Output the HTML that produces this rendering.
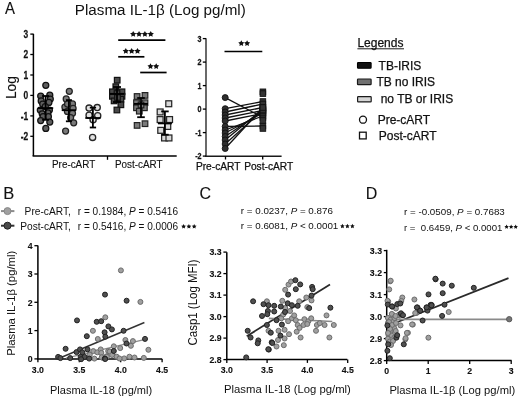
<!DOCTYPE html>
<html><head><meta charset="utf-8"><style>
html,body{margin:0;padding:0;background:#fff;width:520px;height:397px;overflow:hidden}
svg{display:block;filter:grayscale(1) blur(0.3px)}
svg text{font-family:"Liberation Sans",sans-serif;fill:#111}
svg text.h{stroke:#111;stroke-width:0.25px}
svg text.m{stroke:#111;stroke-width:0.12px}
</style></head><body>
<svg width="520" height="397" viewBox="0 0 520 397">
<rect width="520" height="397" fill="#fff"/>
<text transform="translate(5.10 13.80) scale(0.900 1)" font-size="16.6" text-anchor="start" font-weight="normal" class="m">A</text>
<text transform="translate(74.80 14.90) scale(1.028 1)" font-size="14.8" text-anchor="start" font-weight="normal" >Plasma IL-1&#946; (Log pg/ml)</text>
<line x1="33.4" y1="33.8" x2="33.4" y2="156.0" stroke="#000" stroke-width="1.50"/>
<line x1="32.6" y1="156.0" x2="176.7" y2="156.0" stroke="#000" stroke-width="1.50"/>
<line x1="30.3" y1="34.1" x2="33.4" y2="34.1" stroke="#000" stroke-width="1.30"/>
<text transform="translate(28.30 37.85) scale(0.780 1)" font-size="10.8" text-anchor="end" font-weight="bold" class="h">3</text>
<line x1="30.3" y1="54.5" x2="33.4" y2="54.5" stroke="#000" stroke-width="1.30"/>
<text transform="translate(28.30 58.30) scale(0.780 1)" font-size="10.8" text-anchor="end" font-weight="bold" class="h">2</text>
<line x1="30.3" y1="75.0" x2="33.4" y2="75.0" stroke="#000" stroke-width="1.30"/>
<text transform="translate(28.30 78.75) scale(0.780 1)" font-size="10.8" text-anchor="end" font-weight="bold" class="h">1</text>
<line x1="30.3" y1="95.4" x2="33.4" y2="95.4" stroke="#000" stroke-width="1.30"/>
<text transform="translate(28.30 99.20) scale(0.780 1)" font-size="10.8" text-anchor="end" font-weight="bold" class="h">0</text>
<line x1="30.3" y1="115.9" x2="33.4" y2="115.9" stroke="#000" stroke-width="1.30"/>
<text transform="translate(28.30 119.65) scale(0.780 1)" font-size="10.8" text-anchor="end" font-weight="bold" class="h">-1</text>
<line x1="30.3" y1="136.3" x2="33.4" y2="136.3" stroke="#000" stroke-width="1.30"/>
<text transform="translate(28.30 140.10) scale(0.780 1)" font-size="10.8" text-anchor="end" font-weight="bold" class="h">-2</text>
<line x1="107.5" y1="156.0" x2="107.5" y2="159.8" stroke="#000" stroke-width="1.30"/>
<text transform="translate(73.60 168.40) scale(0.960 1)" font-size="10.3" text-anchor="middle" font-weight="normal" class="m">Pre-cART</text>
<text transform="translate(138.80 168.40) scale(0.960 1)" font-size="10.3" text-anchor="middle" font-weight="normal" class="m">Post-cART</text>
<text class="m" font-size="15.3" text-anchor="middle" transform="translate(15.7 87.6) rotate(-90) scale(0.9 1)">Log</text>
<line x1="118.2" y1="40.1" x2="165.4" y2="40.1" stroke="#000" stroke-width="1.70"/>
<polygon points="133.20,30.90 134.17,32.87 136.34,33.18 134.77,34.71 135.14,36.87 133.20,35.85 131.26,36.87 131.63,34.71 130.06,33.18 132.23,32.87" fill="#111"/><polygon points="139.05,30.90 140.02,32.87 142.19,33.18 140.62,34.71 140.99,36.87 139.05,35.85 137.11,36.87 137.48,34.71 135.91,33.18 138.08,32.87" fill="#111"/><polygon points="144.90,30.90 145.87,32.87 148.04,33.18 146.47,34.71 146.84,36.87 144.90,35.85 142.96,36.87 143.33,34.71 141.76,33.18 143.93,32.87" fill="#111"/><polygon points="150.75,30.90 151.72,32.87 153.89,33.18 152.32,34.71 152.69,36.87 150.75,35.85 148.81,36.87 149.18,34.71 147.61,33.18 149.78,32.87" fill="#111"/>
<line x1="118.2" y1="56.8" x2="144.4" y2="56.8" stroke="#000" stroke-width="1.70"/>
<polygon points="125.80,47.90 126.77,49.87 128.94,50.18 127.37,51.71 127.74,53.87 125.80,52.85 123.86,53.87 124.23,51.71 122.66,50.18 124.83,49.87" fill="#111"/><polygon points="131.65,47.90 132.62,49.87 134.79,50.18 133.22,51.71 133.59,53.87 131.65,52.85 129.71,53.87 130.08,51.71 128.51,50.18 130.68,49.87" fill="#111"/><polygon points="137.50,47.90 138.47,49.87 140.64,50.18 139.07,51.71 139.44,53.87 137.50,52.85 135.56,53.87 135.93,51.71 134.36,50.18 136.53,49.87" fill="#111"/>
<line x1="140.2" y1="72.5" x2="166.6" y2="72.5" stroke="#000" stroke-width="1.70"/>
<polygon points="150.50,63.20 151.44,65.11 153.54,65.41 152.02,66.89 152.38,68.99 150.50,68.00 148.62,68.99 148.98,66.89 147.46,65.41 149.56,65.11" fill="#111"/><polygon points="156.20,63.20 157.14,65.11 159.24,65.41 157.72,66.89 158.08,68.99 156.20,68.00 154.32,68.99 154.68,66.89 153.16,65.41 155.26,65.11" fill="#111"/>
<circle cx="45.8" cy="85.3" r="3.00" fill="#5e5e5e" stroke="#111111" stroke-width="1.25"/>
<circle cx="40.7" cy="96.1" r="3.00" fill="#5e5e5e" stroke="#111111" stroke-width="1.25"/>
<circle cx="49.8" cy="95.2" r="3.00" fill="#5e5e5e" stroke="#111111" stroke-width="1.25"/>
<circle cx="41.2" cy="100.9" r="3.00" fill="#5e5e5e" stroke="#111111" stroke-width="1.25"/>
<circle cx="50.3" cy="99.0" r="3.00" fill="#5e5e5e" stroke="#111111" stroke-width="1.25"/>
<circle cx="42.7" cy="104.0" r="3.00" fill="#5e5e5e" stroke="#111111" stroke-width="1.25"/>
<circle cx="48.9" cy="102.4" r="3.00" fill="#5e5e5e" stroke="#111111" stroke-width="1.25"/>
<circle cx="40.3" cy="110.0" r="3.00" fill="#5e5e5e" stroke="#111111" stroke-width="1.25"/>
<circle cx="49.4" cy="110.0" r="3.00" fill="#5e5e5e" stroke="#111111" stroke-width="1.25"/>
<circle cx="42.2" cy="113.8" r="3.00" fill="#5e5e5e" stroke="#111111" stroke-width="1.25"/>
<circle cx="47.9" cy="112.9" r="3.00" fill="#5e5e5e" stroke="#111111" stroke-width="1.25"/>
<circle cx="43.1" cy="116.7" r="3.00" fill="#5e5e5e" stroke="#111111" stroke-width="1.25"/>
<circle cx="48.4" cy="116.7" r="3.00" fill="#5e5e5e" stroke="#111111" stroke-width="1.25"/>
<circle cx="40.7" cy="120.5" r="3.00" fill="#5e5e5e" stroke="#111111" stroke-width="1.25"/>
<circle cx="49.8" cy="122.0" r="3.00" fill="#5e5e5e" stroke="#111111" stroke-width="1.25"/>
<circle cx="45.8" cy="128.4" r="3.00" fill="#5e5e5e" stroke="#111111" stroke-width="1.25"/>
<circle cx="45.3" cy="106.5" r="3.00" fill="#5e5e5e" stroke="#111111" stroke-width="1.25"/>
<circle cx="69.3" cy="91.3" r="3.00" fill="#7a7a7a" stroke="#222222" stroke-width="1.25"/>
<circle cx="66.2" cy="98.9" r="3.00" fill="#7a7a7a" stroke="#222222" stroke-width="1.25"/>
<circle cx="72.5" cy="103.9" r="3.00" fill="#7a7a7a" stroke="#222222" stroke-width="1.25"/>
<circle cx="64.9" cy="107.0" r="3.00" fill="#7a7a7a" stroke="#222222" stroke-width="1.25"/>
<circle cx="73.1" cy="108.3" r="3.00" fill="#7a7a7a" stroke="#222222" stroke-width="1.25"/>
<circle cx="67.4" cy="111.4" r="3.00" fill="#7a7a7a" stroke="#222222" stroke-width="1.25"/>
<circle cx="72.5" cy="113.3" r="3.00" fill="#7a7a7a" stroke="#222222" stroke-width="1.25"/>
<circle cx="70.6" cy="117.7" r="3.00" fill="#7a7a7a" stroke="#222222" stroke-width="1.25"/>
<circle cx="73.7" cy="122.8" r="3.00" fill="#7a7a7a" stroke="#222222" stroke-width="1.25"/>
<circle cx="65.6" cy="131.0" r="3.00" fill="#7a7a7a" stroke="#222222" stroke-width="1.25"/>
<circle cx="67.5" cy="104.0" r="3.00" fill="#7a7a7a" stroke="#222222" stroke-width="1.25"/>
<circle cx="89.1" cy="108.1" r="3.10" fill="#e2e2e2" stroke="#262626" stroke-width="1.30"/>
<circle cx="97.2" cy="107.6" r="3.10" fill="#e2e2e2" stroke="#262626" stroke-width="1.30"/>
<circle cx="89.1" cy="115.2" r="3.10" fill="#e2e2e2" stroke="#262626" stroke-width="1.30"/>
<circle cx="97.7" cy="115.7" r="3.10" fill="#e2e2e2" stroke="#262626" stroke-width="1.30"/>
<circle cx="93.1" cy="119.7" r="3.10" fill="#e2e2e2" stroke="#262626" stroke-width="1.30"/>
<circle cx="92.6" cy="137.4" r="3.10" fill="#e2e2e2" stroke="#262626" stroke-width="1.30"/>
<rect x="114.4" y="77.4" width="5.6" height="5.6" fill="#484848" stroke="#111111" stroke-width="1.20"/>
<rect x="113.0" y="83.9" width="5.6" height="5.6" fill="#484848" stroke="#111111" stroke-width="1.20"/>
<rect x="109.6" y="89.0" width="5.6" height="5.6" fill="#484848" stroke="#111111" stroke-width="1.20"/>
<rect x="119.2" y="89.0" width="5.6" height="5.6" fill="#484848" stroke="#111111" stroke-width="1.20"/>
<rect x="114.2" y="90.7" width="5.6" height="5.6" fill="#484848" stroke="#111111" stroke-width="1.20"/>
<rect x="109.6" y="93.5" width="5.6" height="5.6" fill="#484848" stroke="#111111" stroke-width="1.20"/>
<rect x="119.2" y="93.5" width="5.6" height="5.6" fill="#484848" stroke="#111111" stroke-width="1.20"/>
<rect x="111.3" y="98.1" width="5.6" height="5.6" fill="#484848" stroke="#111111" stroke-width="1.20"/>
<rect x="118.1" y="96.4" width="5.6" height="5.6" fill="#484848" stroke="#111111" stroke-width="1.20"/>
<rect x="118.1" y="102.0" width="5.6" height="5.6" fill="#484848" stroke="#111111" stroke-width="1.20"/>
<rect x="114.1" y="107.2" width="5.6" height="5.6" fill="#484848" stroke="#111111" stroke-width="1.20"/>
<rect x="114.7" y="94.7" width="5.6" height="5.6" fill="#484848" stroke="#111111" stroke-width="1.20"/>
<rect x="134.3" y="93.7" width="5.6" height="5.6" fill="#7a7a7a" stroke="#222222" stroke-width="1.20"/>
<rect x="142.2" y="92.6" width="5.6" height="5.6" fill="#7a7a7a" stroke="#222222" stroke-width="1.20"/>
<rect x="133.7" y="99.9" width="5.6" height="5.6" fill="#7a7a7a" stroke="#222222" stroke-width="1.20"/>
<rect x="142.2" y="99.9" width="5.6" height="5.6" fill="#7a7a7a" stroke="#222222" stroke-width="1.20"/>
<rect x="133.7" y="105.0" width="5.6" height="5.6" fill="#7a7a7a" stroke="#222222" stroke-width="1.20"/>
<rect x="141.6" y="105.0" width="5.6" height="5.6" fill="#7a7a7a" stroke="#222222" stroke-width="1.20"/>
<rect x="136.5" y="108.4" width="5.6" height="5.6" fill="#7a7a7a" stroke="#222222" stroke-width="1.20"/>
<rect x="138.2" y="102.2" width="5.6" height="5.6" fill="#7a7a7a" stroke="#222222" stroke-width="1.20"/>
<rect x="134.3" y="122.6" width="5.6" height="5.6" fill="#7a7a7a" stroke="#222222" stroke-width="1.20"/>
<rect x="142.2" y="120.9" width="5.6" height="5.6" fill="#7a7a7a" stroke="#222222" stroke-width="1.20"/>
<rect x="165.8" y="100.8" width="5.9" height="5.9" fill="#d8d8d8" stroke="#262626" stroke-width="1.25"/>
<rect x="157.2" y="109.0" width="5.9" height="5.9" fill="#d8d8d8" stroke="#262626" stroke-width="1.25"/>
<rect x="157.2" y="116.6" width="5.9" height="5.9" fill="#d8d8d8" stroke="#262626" stroke-width="1.25"/>
<rect x="166.6" y="116.6" width="5.9" height="5.9" fill="#d8d8d8" stroke="#262626" stroke-width="1.25"/>
<rect x="164.8" y="123.5" width="5.9" height="5.9" fill="#d8d8d8" stroke="#262626" stroke-width="1.25"/>
<rect x="157.8" y="127.4" width="5.9" height="5.9" fill="#d8d8d8" stroke="#262626" stroke-width="1.25"/>
<rect x="161.6" y="135.0" width="5.9" height="5.9" fill="#d8d8d8" stroke="#262626" stroke-width="1.25"/>
<rect x="166.0" y="135.0" width="5.9" height="5.9" fill="#d8d8d8" stroke="#262626" stroke-width="1.25"/>
<line x1="45.6" y1="96.0" x2="45.6" y2="119.8" stroke="#000" stroke-width="1.80"/>
<line x1="42.1" y1="96.0" x2="49.1" y2="96.0" stroke="#000" stroke-width="1.80"/>
<line x1="42.1" y1="119.8" x2="49.1" y2="119.8" stroke="#000" stroke-width="1.80"/>
<line x1="38.0" y1="108.1" x2="53.2" y2="108.1" stroke="#000" stroke-width="1.80"/>
<line x1="68.9" y1="100.1" x2="68.9" y2="121.3" stroke="#000" stroke-width="1.80"/>
<line x1="65.9" y1="100.1" x2="71.9" y2="100.1" stroke="#000" stroke-width="1.80"/>
<line x1="65.9" y1="121.3" x2="71.9" y2="121.3" stroke="#000" stroke-width="1.80"/>
<line x1="61.7" y1="110.2" x2="76.2" y2="110.2" stroke="#000" stroke-width="1.80"/>
<line x1="92.9" y1="107.6" x2="92.9" y2="127.5" stroke="#000" stroke-width="1.80"/>
<line x1="89.8" y1="107.6" x2="96.1" y2="107.6" stroke="#000" stroke-width="1.80"/>
<line x1="89.8" y1="127.5" x2="96.1" y2="127.5" stroke="#000" stroke-width="1.80"/>
<line x1="85.3" y1="118.0" x2="100.5" y2="118.0" stroke="#000" stroke-width="1.80"/>
<line x1="117.0" y1="87.0" x2="117.0" y2="102.0" stroke="#000" stroke-width="1.80"/>
<line x1="113.0" y1="87.0" x2="121.0" y2="87.0" stroke="#000" stroke-width="1.80"/>
<line x1="113.0" y1="102.0" x2="121.0" y2="102.0" stroke="#000" stroke-width="1.80"/>
<line x1="110.0" y1="94.0" x2="124.0" y2="94.0" stroke="#000" stroke-width="1.80"/>
<line x1="141.0" y1="98.0" x2="141.0" y2="117.2" stroke="#000" stroke-width="1.80"/>
<line x1="137.2" y1="98.0" x2="144.8" y2="98.0" stroke="#000" stroke-width="1.80"/>
<line x1="137.2" y1="117.2" x2="144.8" y2="117.2" stroke="#000" stroke-width="1.80"/>
<line x1="134.0" y1="103.9" x2="148.0" y2="103.9" stroke="#000" stroke-width="1.80"/>
<line x1="164.9" y1="111.4" x2="164.9" y2="134.7" stroke="#000" stroke-width="1.80"/>
<line x1="161.2" y1="111.4" x2="168.7" y2="111.4" stroke="#000" stroke-width="1.80"/>
<line x1="161.2" y1="134.7" x2="168.7" y2="134.7" stroke="#000" stroke-width="1.80"/>
<line x1="157.9" y1="123.4" x2="171.9" y2="123.4" stroke="#000" stroke-width="1.80"/>
<line x1="206.0" y1="38.3" x2="206.0" y2="156.3" stroke="#1a1a1a" stroke-width="1.30"/>
<line x1="205.3" y1="156.3" x2="281.6" y2="156.3" stroke="#1a1a1a" stroke-width="1.40"/>
<line x1="202.8" y1="38.6" x2="206.0" y2="38.6" stroke="#000" stroke-width="1.30"/>
<text transform="translate(201.60 41.70) scale(0.820 1)" font-size="8.8" text-anchor="end" font-weight="bold" class="h">3</text>
<line x1="202.8" y1="62.1" x2="206.0" y2="62.1" stroke="#000" stroke-width="1.30"/>
<text transform="translate(201.60 65.20) scale(0.820 1)" font-size="8.8" text-anchor="end" font-weight="bold" class="h">2</text>
<line x1="202.8" y1="85.6" x2="206.0" y2="85.6" stroke="#000" stroke-width="1.30"/>
<text transform="translate(201.60 88.70) scale(0.820 1)" font-size="8.8" text-anchor="end" font-weight="bold" class="h">1</text>
<line x1="202.8" y1="109.1" x2="206.0" y2="109.1" stroke="#000" stroke-width="1.30"/>
<text transform="translate(201.60 112.20) scale(0.820 1)" font-size="8.8" text-anchor="end" font-weight="bold" class="h">0</text>
<line x1="202.8" y1="132.6" x2="206.0" y2="132.6" stroke="#000" stroke-width="1.30"/>
<text transform="translate(201.60 135.70) scale(0.820 1)" font-size="8.8" text-anchor="end" font-weight="bold" class="h">-1</text>
<line x1="202.8" y1="156.1" x2="206.0" y2="156.1" stroke="#000" stroke-width="1.30"/>
<text transform="translate(201.60 159.20) scale(0.820 1)" font-size="8.8" text-anchor="end" font-weight="bold" class="h">-2</text>
<line x1="225.5" y1="156.3" x2="225.5" y2="159.5" stroke="#000" stroke-width="1.30"/>
<line x1="262.7" y1="156.3" x2="262.7" y2="159.5" stroke="#000" stroke-width="1.30"/>
<text x="218.2" y="169.6" font-size="10.2" text-anchor="middle" font-weight="normal" class="h">Pre-cART</text>
<text x="268.7" y="169.6" font-size="10.2" text-anchor="middle" font-weight="normal" class="h">Post-cART</text>
<line x1="224.5" y1="51.5" x2="262.3" y2="51.5" stroke="#000" stroke-width="1.70"/>
<polygon points="241.30,40.20 242.24,42.11 244.34,42.41 242.82,43.89 243.18,45.99 241.30,45.00 239.42,45.99 239.78,43.89 238.26,42.41 240.36,42.11" fill="#111"/><polygon points="247.10,40.20 248.04,42.11 250.14,42.41 248.62,43.89 248.98,45.99 247.10,45.00 245.22,45.99 245.58,43.89 244.06,42.41 246.16,42.11" fill="#111"/>
<line x1="225.2" y1="97.6" x2="262.9" y2="117.5" stroke="#111" stroke-width="1.30"/>
<line x1="225.2" y1="108.7" x2="262.9" y2="101.5" stroke="#111" stroke-width="1.30"/>
<line x1="225.2" y1="112.0" x2="262.9" y2="104.0" stroke="#111" stroke-width="1.30"/>
<line x1="225.2" y1="115.0" x2="262.9" y2="107.5" stroke="#111" stroke-width="1.30"/>
<line x1="225.2" y1="118.0" x2="262.9" y2="110.5" stroke="#111" stroke-width="1.30"/>
<line x1="225.2" y1="121.0" x2="262.9" y2="113.5" stroke="#111" stroke-width="1.30"/>
<line x1="225.2" y1="126.5" x2="262.9" y2="126.0" stroke="#111" stroke-width="1.30"/>
<line x1="225.2" y1="130.0" x2="262.9" y2="116.0" stroke="#111" stroke-width="1.30"/>
<line x1="225.2" y1="133.0" x2="262.9" y2="113.0" stroke="#111" stroke-width="1.30"/>
<line x1="225.2" y1="136.5" x2="262.9" y2="111.0" stroke="#111" stroke-width="1.30"/>
<line x1="225.2" y1="140.0" x2="262.9" y2="109.0" stroke="#111" stroke-width="1.30"/>
<line x1="225.2" y1="144.0" x2="262.9" y2="110.0" stroke="#111" stroke-width="1.30"/>
<line x1="225.2" y1="148.5" x2="262.9" y2="107.5" stroke="#111" stroke-width="1.30"/>
<circle cx="225.2" cy="97.6" r="3.00" fill="#2e2e2e" stroke="#111" stroke-width="0.90"/>
<circle cx="225.2" cy="108.7" r="3.00" fill="#2e2e2e" stroke="#111" stroke-width="0.90"/>
<circle cx="225.2" cy="112.0" r="3.00" fill="#2e2e2e" stroke="#111" stroke-width="0.90"/>
<circle cx="225.2" cy="115.0" r="3.00" fill="#2e2e2e" stroke="#111" stroke-width="0.90"/>
<circle cx="225.2" cy="118.0" r="3.00" fill="#2e2e2e" stroke="#111" stroke-width="0.90"/>
<circle cx="225.2" cy="121.0" r="3.00" fill="#2e2e2e" stroke="#111" stroke-width="0.90"/>
<circle cx="225.2" cy="126.5" r="3.00" fill="#2e2e2e" stroke="#111" stroke-width="0.90"/>
<circle cx="225.2" cy="130.0" r="3.00" fill="#2e2e2e" stroke="#111" stroke-width="0.90"/>
<circle cx="225.2" cy="133.0" r="3.00" fill="#2e2e2e" stroke="#111" stroke-width="0.90"/>
<circle cx="225.2" cy="136.5" r="3.00" fill="#2e2e2e" stroke="#111" stroke-width="0.90"/>
<circle cx="225.2" cy="140.0" r="3.00" fill="#2e2e2e" stroke="#111" stroke-width="0.90"/>
<circle cx="225.2" cy="144.0" r="3.00" fill="#2e2e2e" stroke="#111" stroke-width="0.90"/>
<circle cx="225.2" cy="148.5" r="3.00" fill="#2e2e2e" stroke="#111" stroke-width="0.90"/>
<rect x="260.1" y="114.7" width="5.6" height="5.6" fill="#333" stroke="#111" stroke-width="0.90"/>
<rect x="260.1" y="98.7" width="5.6" height="5.6" fill="#333" stroke="#111" stroke-width="0.90"/>
<rect x="260.1" y="101.2" width="5.6" height="5.6" fill="#333" stroke="#111" stroke-width="0.90"/>
<rect x="260.1" y="104.7" width="5.6" height="5.6" fill="#333" stroke="#111" stroke-width="0.90"/>
<rect x="260.1" y="107.7" width="5.6" height="5.6" fill="#333" stroke="#111" stroke-width="0.90"/>
<rect x="260.1" y="110.7" width="5.6" height="5.6" fill="#333" stroke="#111" stroke-width="0.90"/>
<rect x="260.1" y="123.2" width="5.6" height="5.6" fill="#333" stroke="#111" stroke-width="0.90"/>
<rect x="260.1" y="113.2" width="5.6" height="5.6" fill="#333" stroke="#111" stroke-width="0.90"/>
<rect x="260.1" y="110.2" width="5.6" height="5.6" fill="#333" stroke="#111" stroke-width="0.90"/>
<rect x="260.1" y="108.2" width="5.6" height="5.6" fill="#333" stroke="#111" stroke-width="0.90"/>
<rect x="260.1" y="106.2" width="5.6" height="5.6" fill="#333" stroke="#111" stroke-width="0.90"/>
<rect x="260.1" y="107.2" width="5.6" height="5.6" fill="#333" stroke="#111" stroke-width="0.90"/>
<rect x="260.1" y="104.7" width="5.6" height="5.6" fill="#333" stroke="#111" stroke-width="0.90"/>
<rect x="260.1" y="89.0" width="5.6" height="5.6" fill="#333" stroke="#111" stroke-width="0.90"/>
<rect x="260.1" y="90.8" width="5.6" height="5.6" fill="#333" stroke="#111" stroke-width="0.90"/>
<rect x="260.1" y="125.7" width="5.6" height="5.6" fill="#333" stroke="#111" stroke-width="0.90"/>
<rect x="260.1" y="117.7" width="5.6" height="5.6" fill="#333" stroke="#111" stroke-width="0.90"/>
<text x="357.4" y="46.5" font-size="12.0" text-anchor="start" font-weight="normal" class="h">Legends</text>
<line x1="357.4" y1="48.8" x2="404.0" y2="48.8" stroke="#000" stroke-width="0.90"/>
<rect x="357.5" y="62.5" width="13.6" height="5.7" rx="0.7" fill="#111" stroke="#000" stroke-width="1.1"/>
<rect x="357.5" y="79.0" width="13.6" height="5.6" rx="0.7" fill="#707070" stroke="#1a1a1a" stroke-width="1.2"/>
<rect x="357.6" y="96.7" width="13.6" height="5.2" rx="0.7" fill="#d6d6d6" stroke="#1a1a1a" stroke-width="1.2"/>
<text x="378.6" y="69.6" font-size="12.0" text-anchor="start" font-weight="normal" class="h">TB-IRIS</text>
<text x="376.4" y="86.0" font-size="12.0" text-anchor="start" font-weight="normal" class="h">TB no IRIS</text>
<text x="380.7" y="102.7" font-size="12.0" text-anchor="start" font-weight="normal" class="h">no TB or IRIS</text>
<circle cx="363.0" cy="119.7" r="3.50" fill="#fff" stroke="#111" stroke-width="1.30"/>
<text x="377.7" y="124.2" font-size="12.0" text-anchor="start" font-weight="normal" class="h">Pre-cART</text>
<rect x="359.5" y="132.2" width="6.7" height="6.7" fill="#fff" stroke="#111" stroke-width="1.30"/>
<text x="378.8" y="140.3" font-size="12.0" text-anchor="start" font-weight="normal" class="h">Post-cART</text>
<text x="3.3" y="198.7" font-size="16.5" text-anchor="start" font-weight="normal" class="m">B</text>
<line x1="1.0" y1="211.1" x2="14.4" y2="211.1" stroke="#8c8c8c" stroke-width="2.00"/>
<circle cx="7.5" cy="211.1" r="3.50" fill="#a0a0a0" stroke="#888" stroke-width="1.00"/>
<line x1="1.0" y1="225.7" x2="14.4" y2="225.7" stroke="#333" stroke-width="2.00"/>
<circle cx="7.5" cy="225.7" r="3.50" fill="#4a4a4a" stroke="#222" stroke-width="1.00"/>
<text x="24.6" y="215.1" font-size="10.2" text-anchor="start" font-weight="normal" >Pre-cART,</text>
<text transform="translate(77.80 215.10) scale(0.988 1)" font-size="10.2" text-anchor="start" font-weight="normal" >r = 0.1984, <tspan font-style="italic">P</tspan> = 0.5416</text>
<text x="20.2" y="229.6" font-size="10.2" text-anchor="start" font-weight="normal" >Post-cART,</text>
<text transform="translate(77.80 229.60) scale(0.988 1)" font-size="10.2" text-anchor="start" font-weight="normal" >r = 0.5416, <tspan font-style="italic">P</tspan> = 0.0006</text>
<polygon points="183.60,224.10 184.33,225.59 185.98,225.83 184.79,226.99 185.07,228.62 183.60,227.85 182.13,228.62 182.41,226.99 181.22,225.83 182.87,225.59" fill="#111"/><polygon points="188.90,224.10 189.63,225.59 191.28,225.83 190.09,226.99 190.37,228.62 188.90,227.85 187.43,228.62 187.71,226.99 186.52,225.83 188.17,225.59" fill="#111"/><polygon points="194.20,224.10 194.93,225.59 196.58,225.83 195.39,226.99 195.67,228.62 194.20,227.85 192.73,228.62 193.01,226.99 191.82,225.83 193.47,225.59" fill="#111"/>
<line x1="37.9" y1="245.5" x2="37.9" y2="358.9" stroke="#000" stroke-width="1.50"/>
<line x1="37.1" y1="358.9" x2="162.2" y2="358.9" stroke="#000" stroke-width="1.50"/>
<line x1="34.4" y1="358.9" x2="37.9" y2="358.9" stroke="#000" stroke-width="1.30"/>
<text transform="translate(32.60 362.20) scale(0.920 1)" font-size="9.5" text-anchor="end" font-weight="bold" class="m">0</text>
<line x1="34.4" y1="330.6" x2="37.9" y2="330.6" stroke="#000" stroke-width="1.30"/>
<text transform="translate(32.60 333.90) scale(0.920 1)" font-size="9.5" text-anchor="end" font-weight="bold" class="m">1</text>
<line x1="34.4" y1="302.3" x2="37.9" y2="302.3" stroke="#000" stroke-width="1.30"/>
<text transform="translate(32.60 305.60) scale(0.920 1)" font-size="9.5" text-anchor="end" font-weight="bold" class="m">2</text>
<line x1="34.4" y1="274.0" x2="37.9" y2="274.0" stroke="#000" stroke-width="1.30"/>
<text transform="translate(32.60 277.30) scale(0.920 1)" font-size="9.5" text-anchor="end" font-weight="bold" class="m">3</text>
<line x1="34.4" y1="245.7" x2="37.9" y2="245.7" stroke="#000" stroke-width="1.30"/>
<text transform="translate(32.60 249.00) scale(0.920 1)" font-size="9.5" text-anchor="end" font-weight="bold" class="m">4</text>
<line x1="37.9" y1="358.9" x2="37.9" y2="362.2" stroke="#000" stroke-width="1.30"/>
<text transform="translate(37.90 373.00) scale(0.920 1)" font-size="9.5" text-anchor="middle" font-weight="bold" class="m">3.0</text>
<line x1="79.3" y1="358.9" x2="79.3" y2="362.2" stroke="#000" stroke-width="1.30"/>
<text transform="translate(79.30 373.00) scale(0.920 1)" font-size="9.5" text-anchor="middle" font-weight="bold" class="m">3.5</text>
<line x1="120.7" y1="358.9" x2="120.7" y2="362.2" stroke="#000" stroke-width="1.30"/>
<text transform="translate(120.70 373.00) scale(0.920 1)" font-size="9.5" text-anchor="middle" font-weight="bold" class="m">4.0</text>
<line x1="162.1" y1="358.9" x2="162.1" y2="362.2" stroke="#000" stroke-width="1.30"/>
<text transform="translate(162.10 373.00) scale(0.920 1)" font-size="9.5" text-anchor="middle" font-weight="bold" class="m">4.5</text>
<text x="50.0" y="393.8" font-size="11.0" text-anchor="start" font-weight="normal" >Plasma IL-18 (pg/ml)</text>
<text x="14.9" y="303.3" font-size="11.3" text-anchor="middle" transform="rotate(-90 14.9 303.3)">Plasma IL-1&#946; (pg/ml)</text>
<line x1="61.0" y1="357.5" x2="144.4" y2="322.5" stroke="#333" stroke-width="1.40"/>
<line x1="66.0" y1="358.1" x2="147.3" y2="338.8" stroke="#8a8a8a" stroke-width="1.20"/>
<circle cx="120.9" cy="270.4" r="2.50" fill="#a0a0a0" stroke="#6c6c6c" stroke-width="1.00"/>
<circle cx="140.4" cy="301.9" r="2.50" fill="#a0a0a0" stroke="#6c6c6c" stroke-width="1.00"/>
<circle cx="105.3" cy="317.3" r="2.50" fill="#a0a0a0" stroke="#6c6c6c" stroke-width="1.00"/>
<circle cx="92.9" cy="330.8" r="2.50" fill="#a0a0a0" stroke="#6c6c6c" stroke-width="1.00"/>
<circle cx="97.8" cy="339.0" r="2.50" fill="#a0a0a0" stroke="#6c6c6c" stroke-width="1.00"/>
<circle cx="125.4" cy="340.0" r="2.50" fill="#a0a0a0" stroke="#6c6c6c" stroke-width="1.00"/>
<circle cx="132.9" cy="341.1" r="2.50" fill="#a0a0a0" stroke="#6c6c6c" stroke-width="1.00"/>
<circle cx="130.9" cy="345.8" r="2.50" fill="#a0a0a0" stroke="#6c6c6c" stroke-width="1.00"/>
<circle cx="148.4" cy="349.8" r="2.50" fill="#a0a0a0" stroke="#6c6c6c" stroke-width="1.00"/>
<circle cx="89.8" cy="354.6" r="2.50" fill="#a0a0a0" stroke="#6c6c6c" stroke-width="1.00"/>
<circle cx="93.3" cy="351.1" r="2.50" fill="#a0a0a0" stroke="#6c6c6c" stroke-width="1.00"/>
<circle cx="94.4" cy="358.6" r="2.50" fill="#a0a0a0" stroke="#6c6c6c" stroke-width="1.00"/>
<circle cx="97.3" cy="352.3" r="2.50" fill="#a0a0a0" stroke="#6c6c6c" stroke-width="1.00"/>
<circle cx="100.7" cy="349.4" r="2.50" fill="#a0a0a0" stroke="#6c6c6c" stroke-width="1.00"/>
<circle cx="101.3" cy="352.9" r="2.50" fill="#a0a0a0" stroke="#6c6c6c" stroke-width="1.00"/>
<circle cx="101.9" cy="357.5" r="2.50" fill="#a0a0a0" stroke="#6c6c6c" stroke-width="1.00"/>
<circle cx="106.5" cy="356.3" r="2.50" fill="#a0a0a0" stroke="#6c6c6c" stroke-width="1.00"/>
<circle cx="108.2" cy="351.1" r="2.50" fill="#a0a0a0" stroke="#6c6c6c" stroke-width="1.00"/>
<circle cx="113.8" cy="346.3" r="2.50" fill="#a0a0a0" stroke="#6c6c6c" stroke-width="1.00"/>
<circle cx="120.2" cy="348.1" r="2.50" fill="#a0a0a0" stroke="#6c6c6c" stroke-width="1.00"/>
<circle cx="109.8" cy="351.5" r="2.50" fill="#a0a0a0" stroke="#6c6c6c" stroke-width="1.00"/>
<circle cx="112.1" cy="355.0" r="2.50" fill="#a0a0a0" stroke="#6c6c6c" stroke-width="1.00"/>
<circle cx="101.7" cy="357.3" r="2.50" fill="#a0a0a0" stroke="#6c6c6c" stroke-width="1.00"/>
<circle cx="106.9" cy="356.7" r="2.50" fill="#a0a0a0" stroke="#6c6c6c" stroke-width="1.00"/>
<circle cx="116.7" cy="356.7" r="2.50" fill="#a0a0a0" stroke="#6c6c6c" stroke-width="1.00"/>
<circle cx="124.2" cy="358.4" r="2.50" fill="#a0a0a0" stroke="#6c6c6c" stroke-width="1.00"/>
<circle cx="129.4" cy="356.7" r="2.50" fill="#a0a0a0" stroke="#6c6c6c" stroke-width="1.00"/>
<circle cx="143.8" cy="357.9" r="2.50" fill="#a0a0a0" stroke="#6c6c6c" stroke-width="1.00"/>
<circle cx="134.5" cy="357.5" r="2.50" fill="#a0a0a0" stroke="#6c6c6c" stroke-width="1.00"/>
<circle cx="119.5" cy="358.5" r="2.50" fill="#a0a0a0" stroke="#6c6c6c" stroke-width="1.00"/>
<circle cx="105.0" cy="294.6" r="2.50" fill="#505050" stroke="#222222" stroke-width="1.00"/>
<circle cx="126.6" cy="300.7" r="2.50" fill="#505050" stroke="#222222" stroke-width="1.00"/>
<circle cx="77.0" cy="320.4" r="2.50" fill="#505050" stroke="#222222" stroke-width="1.00"/>
<circle cx="96.7" cy="321.8" r="2.50" fill="#505050" stroke="#222222" stroke-width="1.00"/>
<circle cx="101.2" cy="321.2" r="2.50" fill="#505050" stroke="#222222" stroke-width="1.00"/>
<circle cx="108.4" cy="326.4" r="2.50" fill="#505050" stroke="#222222" stroke-width="1.00"/>
<circle cx="111.9" cy="329.4" r="2.50" fill="#505050" stroke="#222222" stroke-width="1.00"/>
<circle cx="86.8" cy="336.2" r="2.50" fill="#505050" stroke="#222222" stroke-width="1.00"/>
<circle cx="104.6" cy="332.3" r="2.50" fill="#505050" stroke="#222222" stroke-width="1.00"/>
<circle cx="105.3" cy="336.7" r="2.50" fill="#505050" stroke="#222222" stroke-width="1.00"/>
<circle cx="123.6" cy="330.8" r="2.50" fill="#505050" stroke="#222222" stroke-width="1.00"/>
<circle cx="145.0" cy="338.9" r="2.50" fill="#505050" stroke="#222222" stroke-width="1.00"/>
<circle cx="65.6" cy="348.8" r="2.50" fill="#505050" stroke="#222222" stroke-width="1.00"/>
<circle cx="58.1" cy="356.9" r="2.50" fill="#505050" stroke="#222222" stroke-width="1.00"/>
<circle cx="60.4" cy="358.1" r="2.50" fill="#505050" stroke="#222222" stroke-width="1.00"/>
<circle cx="70.2" cy="358.1" r="2.50" fill="#505050" stroke="#222222" stroke-width="1.00"/>
<circle cx="76.5" cy="352.1" r="2.50" fill="#505050" stroke="#222222" stroke-width="1.00"/>
<circle cx="80.0" cy="349.4" r="2.50" fill="#505050" stroke="#222222" stroke-width="1.00"/>
<circle cx="82.3" cy="352.3" r="2.50" fill="#505050" stroke="#222222" stroke-width="1.00"/>
<circle cx="80.6" cy="356.9" r="2.50" fill="#505050" stroke="#222222" stroke-width="1.00"/>
<circle cx="84.6" cy="356.9" r="2.50" fill="#505050" stroke="#222222" stroke-width="1.00"/>
<circle cx="81.1" cy="359.2" r="2.50" fill="#505050" stroke="#222222" stroke-width="1.00"/>
<circle cx="87.5" cy="349.4" r="2.50" fill="#505050" stroke="#222222" stroke-width="1.00"/>
<circle cx="89.2" cy="358.6" r="2.50" fill="#505050" stroke="#222222" stroke-width="1.00"/>
<circle cx="104.8" cy="358.6" r="2.50" fill="#505050" stroke="#222222" stroke-width="1.00"/>
<circle cx="113.8" cy="351.0" r="2.50" fill="#505050" stroke="#222222" stroke-width="1.00"/>
<circle cx="126.5" cy="343.5" r="2.50" fill="#505050" stroke="#222222" stroke-width="1.00"/>
<circle cx="105.2" cy="359.0" r="2.50" fill="#505050" stroke="#222222" stroke-width="1.00"/>
<text transform="translate(199.60 198.60) scale(0.970 1)" font-size="16.5" text-anchor="start" font-weight="normal" class="m">C</text>
<text x="240.8" y="213.6" font-size="9.8" text-anchor="start" font-weight="normal" >r = 0.0237, <tspan font-style="italic">P</tspan> = 0.876</text>
<text x="240.8" y="229.0" font-size="9.8" text-anchor="start" font-weight="normal" >r = 0.6081, <tspan font-style="italic">P</tspan> &lt; 0.0001</text>
<polygon points="342.40,223.80 343.11,225.23 344.68,225.46 343.54,226.57 343.81,228.14 342.40,227.40 340.99,228.14 341.26,226.57 340.12,225.46 341.69,225.23" fill="#111"/><polygon points="347.40,223.80 348.11,225.23 349.68,225.46 348.54,226.57 348.81,228.14 347.40,227.40 345.99,228.14 346.26,226.57 345.12,225.46 346.69,225.23" fill="#111"/><polygon points="352.40,223.80 353.11,225.23 354.68,225.46 353.54,226.57 353.81,228.14 352.40,227.40 350.99,228.14 351.26,226.57 350.12,225.46 351.69,225.23" fill="#111"/>
<line x1="226.8" y1="252.2" x2="226.8" y2="359.6" stroke="#000" stroke-width="1.50"/>
<line x1="226.1" y1="359.6" x2="347.3" y2="359.6" stroke="#000" stroke-width="1.50"/>
<line x1="223.4" y1="359.6" x2="226.8" y2="359.6" stroke="#000" stroke-width="1.30"/>
<text transform="translate(221.60 362.60) scale(0.920 1)" font-size="9.5" text-anchor="end" font-weight="bold" class="m">2.8</text>
<line x1="223.4" y1="338.1" x2="226.8" y2="338.1" stroke="#000" stroke-width="1.30"/>
<text transform="translate(221.60 341.10) scale(0.920 1)" font-size="9.5" text-anchor="end" font-weight="bold" class="m">2.9</text>
<line x1="223.4" y1="316.6" x2="226.8" y2="316.6" stroke="#000" stroke-width="1.30"/>
<text transform="translate(221.60 319.60) scale(0.920 1)" font-size="9.5" text-anchor="end" font-weight="bold" class="m">3.0</text>
<line x1="223.4" y1="295.1" x2="226.8" y2="295.1" stroke="#000" stroke-width="1.30"/>
<text transform="translate(221.60 298.10) scale(0.920 1)" font-size="9.5" text-anchor="end" font-weight="bold" class="m">3.1</text>
<line x1="223.4" y1="273.6" x2="226.8" y2="273.6" stroke="#000" stroke-width="1.30"/>
<text transform="translate(221.60 276.60) scale(0.920 1)" font-size="9.5" text-anchor="end" font-weight="bold" class="m">3.2</text>
<line x1="223.4" y1="252.1" x2="226.8" y2="252.1" stroke="#000" stroke-width="1.30"/>
<text transform="translate(221.60 255.10) scale(0.920 1)" font-size="9.5" text-anchor="end" font-weight="bold" class="m">3.3</text>
<line x1="226.8" y1="359.6" x2="226.8" y2="362.9" stroke="#000" stroke-width="1.30"/>
<text transform="translate(226.80 373.20) scale(0.920 1)" font-size="9.5" text-anchor="middle" font-weight="bold" class="m">3.0</text>
<line x1="267.1" y1="359.6" x2="267.1" y2="362.9" stroke="#000" stroke-width="1.30"/>
<text transform="translate(267.10 373.20) scale(0.920 1)" font-size="9.5" text-anchor="middle" font-weight="bold" class="m">3.5</text>
<line x1="307.4" y1="359.6" x2="307.4" y2="362.9" stroke="#000" stroke-width="1.30"/>
<text transform="translate(307.40 373.20) scale(0.920 1)" font-size="9.5" text-anchor="middle" font-weight="bold" class="m">4.0</text>
<line x1="347.7" y1="359.6" x2="347.7" y2="362.9" stroke="#000" stroke-width="1.30"/>
<text transform="translate(347.70 373.20) scale(0.920 1)" font-size="9.5" text-anchor="middle" font-weight="bold" class="m">4.5</text>
<text x="224.0" y="393.4" font-size="11.3" text-anchor="start" font-weight="normal" >Plasma IL-18 (Log pg/ml)</text>
<text font-size="12" text-anchor="middle" transform="translate(197.0 302.5) rotate(-90) scale(0.955 1)">Casp1 (Log MFI)</text>
<line x1="246.7" y1="336.2" x2="330.0" y2="284.6" stroke="#2a2a2a" stroke-width="1.80"/>
<line x1="268.8" y1="318.3" x2="332.3" y2="321.5" stroke="#8a8a8a" stroke-width="1.70"/>
<circle cx="266.9" cy="301.3" r="2.50" fill="#a0a0a0" stroke="#6c6c6c" stroke-width="1.00"/>
<circle cx="282.3" cy="300.8" r="2.50" fill="#a0a0a0" stroke="#6c6c6c" stroke-width="1.00"/>
<circle cx="285.2" cy="308.0" r="2.50" fill="#a0a0a0" stroke="#6c6c6c" stroke-width="1.00"/>
<circle cx="288.5" cy="284.6" r="2.50" fill="#a0a0a0" stroke="#6c6c6c" stroke-width="1.00"/>
<circle cx="291.0" cy="281.5" r="2.50" fill="#a0a0a0" stroke="#6c6c6c" stroke-width="1.00"/>
<circle cx="285.2" cy="289.8" r="2.50" fill="#a0a0a0" stroke="#6c6c6c" stroke-width="1.00"/>
<circle cx="299.2" cy="301.3" r="2.50" fill="#a0a0a0" stroke="#6c6c6c" stroke-width="1.00"/>
<circle cx="306.3" cy="297.5" r="2.50" fill="#a0a0a0" stroke="#6c6c6c" stroke-width="1.00"/>
<circle cx="311.5" cy="300.4" r="2.50" fill="#a0a0a0" stroke="#6c6c6c" stroke-width="1.00"/>
<circle cx="307.3" cy="307.1" r="2.50" fill="#a0a0a0" stroke="#6c6c6c" stroke-width="1.00"/>
<circle cx="326.5" cy="315.4" r="2.50" fill="#a0a0a0" stroke="#6c6c6c" stroke-width="1.00"/>
<circle cx="276.5" cy="346.5" r="2.50" fill="#a0a0a0" stroke="#6c6c6c" stroke-width="1.00"/>
<circle cx="283.8" cy="345.2" r="2.50" fill="#a0a0a0" stroke="#6c6c6c" stroke-width="1.00"/>
<circle cx="268.5" cy="330.8" r="2.50" fill="#a0a0a0" stroke="#6c6c6c" stroke-width="1.00"/>
<circle cx="278.5" cy="330.8" r="2.50" fill="#a0a0a0" stroke="#6c6c6c" stroke-width="1.00"/>
<circle cx="284.6" cy="329.8" r="2.50" fill="#a0a0a0" stroke="#6c6c6c" stroke-width="1.00"/>
<circle cx="284.6" cy="338.5" r="2.50" fill="#a0a0a0" stroke="#6c6c6c" stroke-width="1.00"/>
<circle cx="289.0" cy="334.2" r="2.50" fill="#a0a0a0" stroke="#6c6c6c" stroke-width="1.00"/>
<circle cx="281.3" cy="318.3" r="2.50" fill="#a0a0a0" stroke="#6c6c6c" stroke-width="1.00"/>
<circle cx="283.3" cy="314.4" r="2.50" fill="#a0a0a0" stroke="#6c6c6c" stroke-width="1.00"/>
<circle cx="288.1" cy="321.2" r="2.50" fill="#a0a0a0" stroke="#6c6c6c" stroke-width="1.00"/>
<circle cx="291.9" cy="318.3" r="2.50" fill="#a0a0a0" stroke="#6c6c6c" stroke-width="1.00"/>
<circle cx="294.2" cy="315.4" r="2.50" fill="#a0a0a0" stroke="#6c6c6c" stroke-width="1.00"/>
<circle cx="295.8" cy="320.2" r="2.50" fill="#a0a0a0" stroke="#6c6c6c" stroke-width="1.00"/>
<circle cx="297.7" cy="325.0" r="2.50" fill="#a0a0a0" stroke="#6c6c6c" stroke-width="1.00"/>
<circle cx="299.6" cy="327.9" r="2.50" fill="#a0a0a0" stroke="#6c6c6c" stroke-width="1.00"/>
<circle cx="296.7" cy="331.7" r="2.50" fill="#a0a0a0" stroke="#6c6c6c" stroke-width="1.00"/>
<circle cx="300.6" cy="337.5" r="2.50" fill="#a0a0a0" stroke="#6c6c6c" stroke-width="1.00"/>
<circle cx="304.4" cy="319.2" r="2.50" fill="#a0a0a0" stroke="#6c6c6c" stroke-width="1.00"/>
<circle cx="308.3" cy="321.2" r="2.50" fill="#a0a0a0" stroke="#6c6c6c" stroke-width="1.00"/>
<circle cx="311.2" cy="318.3" r="2.50" fill="#a0a0a0" stroke="#6c6c6c" stroke-width="1.00"/>
<circle cx="303.5" cy="325.0" r="2.50" fill="#a0a0a0" stroke="#6c6c6c" stroke-width="1.00"/>
<circle cx="307.3" cy="324.0" r="2.50" fill="#a0a0a0" stroke="#6c6c6c" stroke-width="1.00"/>
<circle cx="316.0" cy="330.8" r="2.50" fill="#a0a0a0" stroke="#6c6c6c" stroke-width="1.00"/>
<circle cx="316.9" cy="325.0" r="2.50" fill="#a0a0a0" stroke="#6c6c6c" stroke-width="1.00"/>
<circle cx="319.8" cy="323.1" r="2.50" fill="#a0a0a0" stroke="#6c6c6c" stroke-width="1.00"/>
<circle cx="324.6" cy="325.0" r="2.50" fill="#a0a0a0" stroke="#6c6c6c" stroke-width="1.00"/>
<circle cx="333.8" cy="325.0" r="2.50" fill="#a0a0a0" stroke="#6c6c6c" stroke-width="1.00"/>
<circle cx="329.4" cy="337.5" r="2.50" fill="#a0a0a0" stroke="#6c6c6c" stroke-width="1.00"/>
<circle cx="290.0" cy="311.0" r="2.50" fill="#a0a0a0" stroke="#6c6c6c" stroke-width="1.00"/>
<circle cx="278.0" cy="340.0" r="2.50" fill="#a0a0a0" stroke="#6c6c6c" stroke-width="1.00"/>
<circle cx="253.1" cy="301.3" r="2.50" fill="#505050" stroke="#222222" stroke-width="1.00"/>
<circle cx="263.5" cy="304.2" r="2.50" fill="#505050" stroke="#222222" stroke-width="1.00"/>
<circle cx="268.5" cy="305.2" r="2.50" fill="#505050" stroke="#222222" stroke-width="1.00"/>
<circle cx="274.2" cy="305.8" r="2.50" fill="#505050" stroke="#222222" stroke-width="1.00"/>
<circle cx="267.9" cy="311.0" r="2.50" fill="#505050" stroke="#222222" stroke-width="1.00"/>
<circle cx="274.2" cy="311.5" r="2.50" fill="#505050" stroke="#222222" stroke-width="1.00"/>
<circle cx="267.3" cy="314.2" r="2.50" fill="#505050" stroke="#222222" stroke-width="1.00"/>
<circle cx="280.8" cy="306.5" r="2.50" fill="#505050" stroke="#222222" stroke-width="1.00"/>
<circle cx="287.7" cy="303.3" r="2.50" fill="#505050" stroke="#222222" stroke-width="1.00"/>
<circle cx="291.9" cy="305.2" r="2.50" fill="#505050" stroke="#222222" stroke-width="1.00"/>
<circle cx="295.4" cy="280.2" r="2.50" fill="#505050" stroke="#222222" stroke-width="1.00"/>
<circle cx="300.2" cy="284.4" r="2.50" fill="#505050" stroke="#222222" stroke-width="1.00"/>
<circle cx="295.8" cy="289.2" r="2.50" fill="#505050" stroke="#222222" stroke-width="1.00"/>
<circle cx="288.1" cy="294.6" r="2.50" fill="#505050" stroke="#222222" stroke-width="1.00"/>
<circle cx="297.7" cy="305.8" r="2.50" fill="#505050" stroke="#222222" stroke-width="1.00"/>
<circle cx="311.5" cy="295.6" r="2.50" fill="#505050" stroke="#222222" stroke-width="1.00"/>
<circle cx="312.1" cy="286.9" r="2.50" fill="#505050" stroke="#222222" stroke-width="1.00"/>
<circle cx="312.7" cy="289.2" r="2.50" fill="#505050" stroke="#222222" stroke-width="1.00"/>
<circle cx="309.2" cy="308.1" r="2.50" fill="#505050" stroke="#222222" stroke-width="1.00"/>
<circle cx="330.4" cy="307.7" r="2.50" fill="#505050" stroke="#222222" stroke-width="1.00"/>
<circle cx="247.7" cy="330.8" r="2.50" fill="#505050" stroke="#222222" stroke-width="1.00"/>
<circle cx="250.6" cy="337.5" r="2.50" fill="#505050" stroke="#222222" stroke-width="1.00"/>
<circle cx="258.3" cy="340.4" r="2.50" fill="#505050" stroke="#222222" stroke-width="1.00"/>
<circle cx="257.7" cy="343.3" r="2.50" fill="#505050" stroke="#222222" stroke-width="1.00"/>
<circle cx="268.8" cy="349.6" r="2.50" fill="#505050" stroke="#222222" stroke-width="1.00"/>
<circle cx="271.7" cy="342.3" r="2.50" fill="#505050" stroke="#222222" stroke-width="1.00"/>
<circle cx="266.9" cy="325.0" r="2.50" fill="#505050" stroke="#222222" stroke-width="1.00"/>
<circle cx="270.8" cy="332.7" r="2.50" fill="#505050" stroke="#222222" stroke-width="1.00"/>
<circle cx="276.5" cy="320.2" r="2.50" fill="#505050" stroke="#222222" stroke-width="1.00"/>
<circle cx="280.4" cy="335.6" r="2.50" fill="#505050" stroke="#222222" stroke-width="1.00"/>
<circle cx="281.9" cy="324.6" r="2.50" fill="#505050" stroke="#222222" stroke-width="1.00"/>
<circle cx="246.2" cy="357.4" r="2.50" fill="#505050" stroke="#222222" stroke-width="1.00"/>
<circle cx="268.3" cy="349.2" r="2.50" fill="#505050" stroke="#222222" stroke-width="1.00"/>
<circle cx="272.3" cy="343.0" r="2.50" fill="#505050" stroke="#222222" stroke-width="1.00"/>
<circle cx="262.0" cy="316.0" r="2.50" fill="#505050" stroke="#222222" stroke-width="1.00"/>
<circle cx="285.0" cy="312.0" r="2.50" fill="#505050" stroke="#222222" stroke-width="1.00"/>
<text transform="translate(365.80 198.70) scale(0.970 1)" font-size="16.5" text-anchor="start" font-weight="normal" class="m">D</text>
<text x="404.0" y="215.3" font-size="9.8" text-anchor="start" font-weight="normal" >r = -0.0509, <tspan font-style="italic">P</tspan> = 0.7683</text>
<text transform="translate(404.00 230.60) scale(0.982 1)" font-size="9.8" text-anchor="start" font-weight="normal" >r = &#160;0.6459, <tspan font-style="italic">P</tspan> &lt; 0.0001</text>
<polygon points="506.60,224.55 507.29,225.95 508.83,226.17 507.72,227.26 507.98,228.80 506.60,228.08 505.22,228.80 505.48,227.26 504.37,226.17 505.91,225.95" fill="#111"/><polygon points="511.15,224.55 511.84,225.95 513.38,226.17 512.27,227.26 512.53,228.80 511.15,228.08 509.77,228.80 510.03,227.26 508.92,226.17 510.46,225.95" fill="#111"/><polygon points="515.70,224.55 516.39,225.95 517.93,226.17 516.82,227.26 517.08,228.80 515.70,228.08 514.32,228.80 514.58,227.26 513.47,226.17 515.01,225.95" fill="#111"/>
<line x1="386.7" y1="249.8" x2="386.7" y2="360.6" stroke="#000" stroke-width="1.50"/>
<line x1="385.9" y1="360.6" x2="511.6" y2="360.6" stroke="#000" stroke-width="1.50"/>
<line x1="383.8" y1="360.6" x2="386.7" y2="360.6" stroke="#000" stroke-width="1.30"/>
<text transform="translate(382.00 363.80) scale(0.920 1)" font-size="9.5" text-anchor="end" font-weight="bold" class="m">2.8</text>
<line x1="383.8" y1="338.6" x2="386.7" y2="338.6" stroke="#000" stroke-width="1.30"/>
<text transform="translate(382.00 341.80) scale(0.920 1)" font-size="9.5" text-anchor="end" font-weight="bold" class="m">2.9</text>
<line x1="383.8" y1="316.6" x2="386.7" y2="316.6" stroke="#000" stroke-width="1.30"/>
<text transform="translate(382.00 319.80) scale(0.920 1)" font-size="9.5" text-anchor="end" font-weight="bold" class="m">3.0</text>
<line x1="383.8" y1="294.6" x2="386.7" y2="294.6" stroke="#000" stroke-width="1.30"/>
<text transform="translate(382.00 297.80) scale(0.920 1)" font-size="9.5" text-anchor="end" font-weight="bold" class="m">3.1</text>
<line x1="383.8" y1="272.6" x2="386.7" y2="272.6" stroke="#000" stroke-width="1.30"/>
<text transform="translate(382.00 275.80) scale(0.920 1)" font-size="9.5" text-anchor="end" font-weight="bold" class="m">3.2</text>
<line x1="383.8" y1="250.6" x2="386.7" y2="250.6" stroke="#000" stroke-width="1.30"/>
<text transform="translate(382.00 253.80) scale(0.920 1)" font-size="9.5" text-anchor="end" font-weight="bold" class="m">3.3</text>
<line x1="386.7" y1="360.6" x2="386.7" y2="363.9" stroke="#000" stroke-width="1.30"/>
<text transform="translate(386.70 374.00) scale(0.920 1)" font-size="9.5" text-anchor="middle" font-weight="bold" class="m">0</text>
<line x1="428.2" y1="360.6" x2="428.2" y2="363.9" stroke="#000" stroke-width="1.30"/>
<text transform="translate(428.20 374.00) scale(0.920 1)" font-size="9.5" text-anchor="middle" font-weight="bold" class="m">1</text>
<line x1="469.7" y1="360.6" x2="469.7" y2="363.9" stroke="#000" stroke-width="1.30"/>
<text transform="translate(469.70 374.00) scale(0.920 1)" font-size="9.5" text-anchor="middle" font-weight="bold" class="m">2</text>
<line x1="511.2" y1="360.6" x2="511.2" y2="363.9" stroke="#000" stroke-width="1.30"/>
<text transform="translate(511.20 374.00) scale(0.920 1)" font-size="9.5" text-anchor="middle" font-weight="bold" class="m">3</text>
<text x="389.4" y="393.6" font-size="11.2" text-anchor="start" font-weight="normal" >Plasma IL-1&#946; (Log pg/ml)</text>
<line x1="390.0" y1="325.0" x2="508.5" y2="278.1" stroke="#2a2a2a" stroke-width="1.80"/>
<line x1="391.0" y1="319.4" x2="509.2" y2="319.4" stroke="#8a8a8a" stroke-width="1.70"/>
<circle cx="390.2" cy="281.3" r="2.50" fill="#a0a0a0" stroke="#6c6c6c" stroke-width="1.00"/>
<circle cx="389.2" cy="289.4" r="2.50" fill="#a0a0a0" stroke="#6c6c6c" stroke-width="1.00"/>
<circle cx="388.2" cy="301.5" r="2.50" fill="#a0a0a0" stroke="#6c6c6c" stroke-width="1.00"/>
<circle cx="395.9" cy="308.5" r="2.50" fill="#a0a0a0" stroke="#6c6c6c" stroke-width="1.00"/>
<circle cx="402.3" cy="297.5" r="2.50" fill="#a0a0a0" stroke="#6c6c6c" stroke-width="1.00"/>
<circle cx="401.3" cy="300.9" r="2.50" fill="#a0a0a0" stroke="#6c6c6c" stroke-width="1.00"/>
<circle cx="392.3" cy="314.6" r="2.50" fill="#a0a0a0" stroke="#6c6c6c" stroke-width="1.00"/>
<circle cx="414.4" cy="299.5" r="2.50" fill="#a0a0a0" stroke="#6c6c6c" stroke-width="1.00"/>
<circle cx="416.5" cy="313.0" r="2.50" fill="#a0a0a0" stroke="#6c6c6c" stroke-width="1.00"/>
<circle cx="405.4" cy="339.3" r="2.50" fill="#a0a0a0" stroke="#6c6c6c" stroke-width="1.00"/>
<circle cx="407.9" cy="332.8" r="2.50" fill="#a0a0a0" stroke="#6c6c6c" stroke-width="1.00"/>
<circle cx="400.5" cy="325.4" r="2.50" fill="#a0a0a0" stroke="#6c6c6c" stroke-width="1.00"/>
<circle cx="412.8" cy="324.6" r="2.50" fill="#a0a0a0" stroke="#6c6c6c" stroke-width="1.00"/>
<circle cx="428.4" cy="337.7" r="2.50" fill="#a0a0a0" stroke="#6c6c6c" stroke-width="1.00"/>
<circle cx="399.7" cy="315.6" r="2.50" fill="#a0a0a0" stroke="#6c6c6c" stroke-width="1.00"/>
<circle cx="415.2" cy="313.1" r="2.50" fill="#a0a0a0" stroke="#6c6c6c" stroke-width="1.00"/>
<circle cx="448.7" cy="312.0" r="2.50" fill="#a0a0a0" stroke="#6c6c6c" stroke-width="1.00"/>
<circle cx="391.8" cy="313.9" r="2.50" fill="#a0a0a0" stroke="#6c6c6c" stroke-width="1.00"/>
<circle cx="387.9" cy="317.9" r="2.50" fill="#a0a0a0" stroke="#6c6c6c" stroke-width="1.00"/>
<circle cx="390.5" cy="319.8" r="2.50" fill="#a0a0a0" stroke="#6c6c6c" stroke-width="1.00"/>
<circle cx="393.1" cy="321.8" r="2.50" fill="#a0a0a0" stroke="#6c6c6c" stroke-width="1.00"/>
<circle cx="387.9" cy="323.1" r="2.50" fill="#a0a0a0" stroke="#6c6c6c" stroke-width="1.00"/>
<circle cx="389.8" cy="325.7" r="2.50" fill="#a0a0a0" stroke="#6c6c6c" stroke-width="1.00"/>
<circle cx="392.5" cy="327.0" r="2.50" fill="#a0a0a0" stroke="#6c6c6c" stroke-width="1.00"/>
<circle cx="394.4" cy="328.3" r="2.50" fill="#a0a0a0" stroke="#6c6c6c" stroke-width="1.00"/>
<circle cx="395.7" cy="331.0" r="2.50" fill="#a0a0a0" stroke="#6c6c6c" stroke-width="1.00"/>
<circle cx="390.5" cy="331.0" r="2.50" fill="#a0a0a0" stroke="#6c6c6c" stroke-width="1.00"/>
<circle cx="388.5" cy="334.9" r="2.50" fill="#a0a0a0" stroke="#6c6c6c" stroke-width="1.00"/>
<circle cx="391.8" cy="335.6" r="2.50" fill="#a0a0a0" stroke="#6c6c6c" stroke-width="1.00"/>
<circle cx="394.4" cy="337.5" r="2.50" fill="#a0a0a0" stroke="#6c6c6c" stroke-width="1.00"/>
<circle cx="387.9" cy="338.8" r="2.50" fill="#a0a0a0" stroke="#6c6c6c" stroke-width="1.00"/>
<circle cx="389.8" cy="341.5" r="2.50" fill="#a0a0a0" stroke="#6c6c6c" stroke-width="1.00"/>
<circle cx="398.9" cy="314.7" r="2.50" fill="#a0a0a0" stroke="#6c6c6c" stroke-width="1.00"/>
<circle cx="390.7" cy="280.7" r="2.50" fill="#a0a0a0" stroke="#6c6c6c" stroke-width="1.00"/>
<circle cx="412.1" cy="324.4" r="2.50" fill="#a0a0a0" stroke="#6c6c6c" stroke-width="1.00"/>
<circle cx="406.9" cy="332.9" r="2.50" fill="#a0a0a0" stroke="#6c6c6c" stroke-width="1.00"/>
<circle cx="405.6" cy="338.2" r="2.50" fill="#a0a0a0" stroke="#6c6c6c" stroke-width="1.00"/>
<circle cx="387.5" cy="300.8" r="2.50" fill="#a0a0a0" stroke="#6c6c6c" stroke-width="1.00"/>
<circle cx="389.0" cy="322.0" r="2.50" fill="#a0a0a0" stroke="#6c6c6c" stroke-width="1.00"/>
<circle cx="392.0" cy="325.0" r="2.50" fill="#a0a0a0" stroke="#6c6c6c" stroke-width="1.00"/>
<circle cx="394.5" cy="318.0" r="2.50" fill="#a0a0a0" stroke="#6c6c6c" stroke-width="1.00"/>
<circle cx="390.0" cy="329.0" r="2.50" fill="#a0a0a0" stroke="#6c6c6c" stroke-width="1.00"/>
<circle cx="396.0" cy="323.0" r="2.50" fill="#a0a0a0" stroke="#6c6c6c" stroke-width="1.00"/>
<circle cx="388.0" cy="333.0" r="2.50" fill="#a0a0a0" stroke="#6c6c6c" stroke-width="1.00"/>
<circle cx="393.0" cy="341.0" r="2.50" fill="#a0a0a0" stroke="#6c6c6c" stroke-width="1.00"/>
<circle cx="391.0" cy="345.0" r="2.50" fill="#a0a0a0" stroke="#6c6c6c" stroke-width="1.00"/>
<circle cx="395.5" cy="316.0" r="2.50" fill="#a0a0a0" stroke="#6c6c6c" stroke-width="1.00"/>
<circle cx="387.8" cy="304.5" r="2.50" fill="#505050" stroke="#222222" stroke-width="1.00"/>
<circle cx="392.3" cy="306.5" r="2.50" fill="#505050" stroke="#222222" stroke-width="1.00"/>
<circle cx="397.3" cy="304.1" r="2.50" fill="#505050" stroke="#222222" stroke-width="1.00"/>
<circle cx="400.3" cy="303.5" r="2.50" fill="#505050" stroke="#222222" stroke-width="1.00"/>
<circle cx="401.3" cy="314.2" r="2.50" fill="#505050" stroke="#222222" stroke-width="1.00"/>
<circle cx="417.5" cy="307.5" r="2.50" fill="#505050" stroke="#222222" stroke-width="1.00"/>
<circle cx="420.1" cy="310.6" r="2.50" fill="#505050" stroke="#222222" stroke-width="1.00"/>
<circle cx="428.5" cy="294.4" r="2.50" fill="#505050" stroke="#222222" stroke-width="1.00"/>
<circle cx="435.6" cy="279.3" r="2.50" fill="#505050" stroke="#222222" stroke-width="1.00"/>
<circle cx="426.5" cy="307.5" r="2.50" fill="#505050" stroke="#222222" stroke-width="1.00"/>
<circle cx="430.6" cy="304.9" r="2.50" fill="#505050" stroke="#222222" stroke-width="1.00"/>
<circle cx="427.5" cy="310.6" r="2.50" fill="#505050" stroke="#222222" stroke-width="1.00"/>
<circle cx="387.4" cy="325.4" r="2.50" fill="#505050" stroke="#222222" stroke-width="1.00"/>
<circle cx="388.2" cy="344.3" r="2.50" fill="#505050" stroke="#222222" stroke-width="1.00"/>
<circle cx="387.4" cy="350.8" r="2.50" fill="#505050" stroke="#222222" stroke-width="1.00"/>
<circle cx="389.8" cy="358.2" r="2.50" fill="#505050" stroke="#222222" stroke-width="1.00"/>
<circle cx="396.4" cy="337.7" r="2.50" fill="#505050" stroke="#222222" stroke-width="1.00"/>
<circle cx="397.2" cy="335.2" r="2.50" fill="#505050" stroke="#222222" stroke-width="1.00"/>
<circle cx="403.8" cy="344.3" r="2.50" fill="#505050" stroke="#222222" stroke-width="1.00"/>
<circle cx="422.6" cy="320.5" r="2.50" fill="#505050" stroke="#222222" stroke-width="1.00"/>
<circle cx="416.9" cy="307.4" r="2.50" fill="#505050" stroke="#222222" stroke-width="1.00"/>
<circle cx="420.2" cy="310.7" r="2.50" fill="#505050" stroke="#222222" stroke-width="1.00"/>
<circle cx="426.7" cy="307.4" r="2.50" fill="#505050" stroke="#222222" stroke-width="1.00"/>
<circle cx="431.6" cy="304.9" r="2.50" fill="#505050" stroke="#222222" stroke-width="1.00"/>
<circle cx="435.4" cy="278.7" r="2.50" fill="#505050" stroke="#222222" stroke-width="1.00"/>
<circle cx="442.7" cy="283.6" r="2.50" fill="#505050" stroke="#222222" stroke-width="1.00"/>
<circle cx="451.8" cy="285.7" r="2.50" fill="#505050" stroke="#222222" stroke-width="1.00"/>
<circle cx="442.7" cy="293.2" r="2.50" fill="#505050" stroke="#222222" stroke-width="1.00"/>
<circle cx="473.8" cy="287.8" r="2.50" fill="#505050" stroke="#222222" stroke-width="1.00"/>
<circle cx="431.5" cy="305.3" r="2.50" fill="#505050" stroke="#222222" stroke-width="1.00"/>
<circle cx="444.5" cy="304.7" r="2.50" fill="#505050" stroke="#222222" stroke-width="1.00"/>
<circle cx="442.1" cy="315.9" r="2.50" fill="#505050" stroke="#222222" stroke-width="1.00"/>
<circle cx="401.0" cy="313.3" r="2.50" fill="#505050" stroke="#222222" stroke-width="1.00"/>
<circle cx="403.0" cy="315.2" r="2.50" fill="#505050" stroke="#222222" stroke-width="1.00"/>
<circle cx="392.0" cy="306.5" r="2.50" fill="#505050" stroke="#222222" stroke-width="1.00"/>
<circle cx="509.2" cy="319.2" r="2.65" fill="#777" stroke="#555" stroke-width="0.95"/>
</svg>
</body></html>
